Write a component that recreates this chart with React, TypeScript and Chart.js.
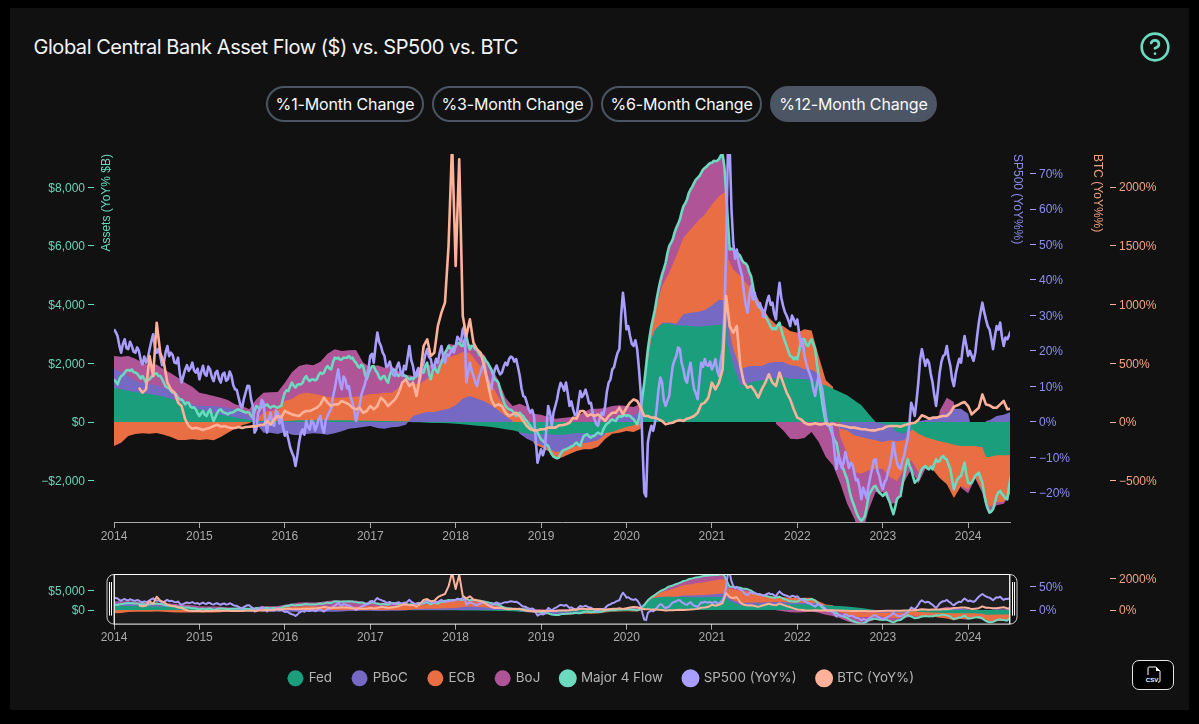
import React, { useEffect, useRef } from "react";
import { Chart, registerables } from "chart.js";

Chart.register(...registerables);

const CHART_TITLE = "Global Central Bank Asset Flow ($) vs. SP500 vs. BTC";
const PERIOD_BUTTONS = ["%1-Month Change", "%3-Month Change", "%6-Month Change", "%12-Month Change"];
const YEAR_TICKS = [2014, 2015, 2016, 2017, 2018, 2019, 2020, 2021, 2022, 2023, 2024];
const ASSET_TICKS = [-2000, 0, 2000, 4000, 6000, 8000];
const SP_TICKS = [-20, -10, 0, 10, 20, 30, 40, 50, 60, 70];
const BTC_TICKS = [-500, 0, 500, 1000, 1500, 2000];
const ASSET_TICKS_MINI = [0, 5000];
const SP_TICKS_MINI = [0, 50];
const BTC_TICKS_MINI = [0, 2000];
const X_RANGE = [2014, 2024.49];
const ASSET_RANGE = [-3407, 9131];
const SP_RANGE = [-28.2, 75.5];
const BTC_RANGE = [-851, 2281];

// months since Jan 2014 for the central-bank stacks
const flowMonths = [
  0,1,2,3,4,5,6,7,8,9,10,11,
  12,13,14,15,16,17,18,19,20,21,22,23,
  24,25,26,27,28,29,30,31,32,33,34,35,
  36,37,38,39,40,41,42,43,44,45,46,47,
  48,49,50,51,52,53,54,55,56,57,58,59,
  60,61,62,63,64,65,66,67,68,69,70,71,
  72,73,74,74.5,75,75.5,76,77,78,79,80,81,82,83,
  84,85,85.7,86,86.3,87,88,89,90,91,92,93,94,95,
  96,97,98,99,100,101,102,103,104,105,106,107,
  108,109,110,111,112,113,114,115,116,117,118,119,
  120,121,122,122.5,123,124,125,126,
];
const fedValues = [
  1158,1112,1067,1022,976,953,908,863,795,704,613,522,
  431,363,295,250,204,159,114,68,34,45,45,34,
  34,45,57,57,57,57,57,57,57,57,45,45,
  45,34,34,34,23,23,-11,-11,-23,-34,-34,-45,
  -57,-79,-102,-125,-148,-170,-204,-250,-284,-340,-397,-397,
  -409,-420,-431,-431,-409,-375,-386,-409,-409,-375,-340,-250,
  -170,-114,114,999,1986,2815,3121,3348,3360,3292,3292,3269,3246,3269,
  3292,3314,3326,3326,2588,1930,1249,1305,1385,1419,1476,1498,1532,1476,
  1476,1453,1419,1305,1249,1135,1022,908,738,568,284,0,
  -57,-114,-340,-397,-227,-397,-511,-590,-658,-704,-772,-817,
  -817,-817,-851,-1192,-1192,-1135,-1135,-1135,
];
const pbocValues = [
  636,590,499,375,363,329,340,306,261,125,102,79,
  114,182,250,272,284,272,204,136,-57,-363,-363,-409,
  -341,-431,-454,-409,-386,-397,-431,-386,-318,-227,-204,-170,
  -136,-204,-227,-182,-159,-91,204,284,340,340,397,454,
  568,795,885,795,704,568,397,204,34,-57,-170,-284,
  -363,-454,-590,-568,-477,-431,-341,-272,-204,-45,114,227,
  204,227,227,57,57,23,23,34,34,57,375,454,499,545,
  681,851,817,795,681,568,545,590,522,488,545,545,511,454,
  431,341,363,341,-57,0,-227,-284,-454,-511,-568,-624,
  -624,-511,-318,-227,-57,23,68,136,227,318,454,454,
  284,0,0,34,57,204,250,341,
];
const ecbValues = [
  -817,-704,-477,-409,-386,-397,-375,-431,-511,-613,-613,-590,
  -613,-590,-624,-511,-363,-227,-114,-45,57,272,341,363,
  681,738,885,942,908,863,795,772,772,795,817,851,
  908,931,965,965,1135,1362,1078,1022,1135,1305,1532,1759,
  1703,1589,1476,1249,1022,738,454,284,170,227,91,-57,
  -91,-114,-227,-204,-204,-182,-204,-250,-227,-159,-57,-114,
  -136,-227,-227,57,170,397,624,1249,1691,2304,2611,2838,3099,3257,
  3439,3530,3666,3723,2270,2701,3178,2792,2497,2043,1532,1283,1226,1169,
  1135,1362,1339,602,170,68,-250,-795,-1249,-1249,-1078,-965,
  -908,-1249,-1362,-965,-1022,-1305,-1022,-1022,-1249,-1419,-1816,-1362,
  -1476,-1078,-1476,-1476,-1703,-1589,-1589,-1249,
];
const bojValues = [
  454,522,681,760,681,647,715,624,602,681,624,602,
  454,397,341,306,261,170,227,227,681,681,624,624,
  624,908,965,965,965,1135,1476,1646,1589,1589,1589,1135,
  908,965,851,908,568,227,284,454,454,341,227,454,
  341,431,284,454,568,568,568,341,341,397,431,284,
  250,170,114,136,159,182,341,454,454,477,431,341,
  341,284,284,227,261,34,68,397,908,965,1078,1362,1476,1589,
  1419,1271,1305,227,454,681,681,624,23,0,0,-57,-284,-568,
  -590,-545,-341,-681,-1135,-1476,-1589,-1703,-1589,-2157,-1362,-795,
  -795,-908,-738,-454,-306,-397,-57,0,159,511,227,-57,
  -136,-34,-91,-227,-227,-114,-57,-34,
];
// half-month samples from Jan 2014 (index / 24 = years after 2014)
const majorValues = [
  1453,1283,1566,1680,1771,1793,1680,1566,1566,1339,1453,1566,1657,1566,1339,1169,1056,999,829,772,602,658,488,431,
  204,375,204,431,34,318,431,318,261,318,375,431,375,318,318,148,545,431,545,602,488,545,488,545,
  999,1056,1339,1169,1283,1339,1566,1396,1453,1453,1680,1680,1907,1793,2191,2191,2134,2191,2247,2191,2020,1850,1907,1453,
  1793,1907,1680,1453,1566,1339,1737,1737,1566,1680,1566,1453,1453,1566,1793,1680,2020,1453,1907,1680,2020,2361,2588,2474,
  2588,2701,2588,2928,2474,2588,2474,2247,2191,2020,1793,1453,1339,885,545,431,375,204,318,204,34,-136,-306,-363,
  -590,-704,-817,-1101,-1214,-1214,-987,-931,-874,-817,-704,-817,-477,-420,-533,-477,-363,-420,-136,-23,91,34,204,204,
  204,204,91,-79,431,1339,2474,3269,3836,4517,5028,5425,5993,6220,6617,6901,7355,7582,7922,8149,8320,8490,8660,8774,
  8830,8887,8967,9114,7809,5879,5879,5766,5652,5425,5312,4971,4290,3950,3836,3609,3382,3155,3155,3382,2928,2588,2247,2134,
  2134,2758,2815,2588,2815,2474,1566,658,-23,-136,-477,-704,-1385,-1612,-1952,-2520,-2860,-3201,-3371,-3201,-2520,-2293,-2179,-2406,
  -2520,-2406,-2747,-3144,-2633,-2520,-1839,-1271,-1612,-2066,-1952,-1612,-1498,-1612,-1612,-1271,-1328,-1158,-1271,-1612,-2293,-1952,-1839,-1385,
  -2066,-2066,-1839,-1725,-2066,-2747,-3087,-2974,-2520,-2349,-2520,-2633,-1839,
];
// readings between those half-month samples
const majorBetween = [
  1380,1450,1600,1760,1740,1700,1650,1480,1470,1420,1540,1640,1570,1470,1210,1140,1000,930,760,700,660,520,500,300,
  300,250,340,210,170,400,350,300,310,330,420,400,350,340,210,380,500,510,560,530,530,500,530,800,
  1080,1220,1230,1270,1280,1490,1450,1450,1420,1600,1640,1830,1820,2020,2160,2120,2190,2190,2170,2080,1900,1950,1640,1660,
  1900,1750,1520,1550,1420,1600,1790,1620,1640,1580,1500,1500,1530,1720,1690,1920,1650,1720,1750,1890,2240,2450,2500,2560,
  2680,2600,2800,2650,2600,2480,2330,2250,2070,1900,1600,1420,1100,700,480,420,280,270,240,100,-60,-230,-320,-480,
  -640,-780,-980,-1180,-1240,-1080,-950,-900,-830,-740,-780,-620,-440,-500,-480,-400,-400,-250,-60,50,50,140,180,240,
  230,140,10,120,900,1900,2900,3550,4200,4800,5220,5750,6100,6450,6750,7150,7450,7800,8020,8260,8380,8600,8700,8820,
  8900,8900,9080,8700,6800,5900,5800,5720,5500,5400,5100,4650,4100,3900,3720,3500,3250,3200,3300,3150,2750,2400,2220,2200,
  2400,2830,2650,2720,2650,2000,1100,300,-100,-300,-620,-1050,-1500,-1800,-2250,-2700,-3050,-3300,-3300,-2900,-2400,-2200,-2320,-2450,
  -2460,-2600,-2950,-2900,-2560,-2150,-1500,-1480,-1850,-2000,-1750,-1540,-1580,-1520,-1420,-1360,-1200,-1250,-1450,-1980,-2100,-1880,-1600,-1800,
  -2100,-1950,-1780,-1900,-2450,-2950,-3050,-2750,-2400,-2450,-2600,-2200,
];
const sp500Values = [
  26.1,24.2,19.5,23.3,20.5,21.4,19.5,20,16.2,16.7,20.5,24.7,19.5,18.6,16.7,21.4,19.5,16.7,18.1,11.1,14.8,14.4,16.7,13.9,
  12,15.8,13,14.8,11.5,14.4,11.1,13.9,12,13,9.2,6.9,4,8.3,10.1,4.5,-2.1,3.6,5.4,-3,2.6,-1.1,2.6,1.7,
  -3.9,-4.9,-8.6,-12.4,-5.8,-2.1,0.3,-2.1,-0.2,-1.1,1.7,-3,1.7,3.6,9.2,14.8,9.2,12,10.1,5.4,0.3,4.5,9.2,13,
  18.6,16.7,25.2,21.4,18.6,15.8,14.8,13,16.7,13,14.8,21.4,15.8,13.9,12,16.7,20.5,17.7,15.8,16.7,21.4,16.7,18.6,20.5,
  21.4,23.3,26.1,11.1,16.7,13,10.1,13.9,16.7,12,9.2,14.8,14.4,13.9,16.7,17.7,18.1,17.7,13,7.3,5.4,2.6,1.7,-11.5,
  -7.7,-7.7,4.5,-1.1,4.5,9.2,10.1,11.1,4.5,3.6,1.7,8.7,7.8,7.3,5.4,0.8,-1.1,2.6,4.5,11.1,14.8,17.7,20.5,36.4,
  26.1,24.2,21.4,20.5,8.3,-19.9,-5.8,-1.1,-0.2,9.2,11.1,4.5,7.3,15.8,18.6,20.5,14.8,11.1,16.7,9.2,6.4,16.7,17.7,15.8,
  14.8,17.7,13,20.5,48.6,77,50.5,48.6,43,36.4,30.8,38.3,36.4,32.7,31.7,31.7,35.5,33.6,28.9,39.2,32.7,29.9,27,28.9,
  28.9,21.4,18.6,14.8,12,7.3,13,9.2,1.7,-1.1,-3.9,-13.3,-10.5,-11.5,-10.5,-11.5,-14.3,-16.2,-21.8,-19.9,-18,-13.3,-10.5,-15.2,
  -19,-16.2,-12.4,-5.8,-11.5,-13.3,-9.6,-4.9,5.4,1.7,11.1,20.5,15.8,16.7,11.1,4.5,13.9,18.6,21.4,15.8,10.1,15.8,16.7,24.2,
  18.6,18.6,19.5,28,33.6,28.9,26.1,20.5,27,28,21.4,23.3,25.6,
];
const sp500Between = [
  25.3,21.5,22,20.8,22.6,19.8,21,17.5,18.4,18,22.8,21,20.6,16,19.6,18.5,18.8,16.5,13.5,13,16,15.2,14.5,15,
  14,13.5,15.6,12.6,13.8,12.2,13.4,11.6,14.2,10.4,9,4.8,6.5,10.2,6.5,-3,2.5,6.2,0.5,0.8,-0.5,3.3,-0.4,-1.5,
  -2.8,-7.2,-9.8,-9.5,-3.2,-3.6,-1.5,0.4,-2.4,0.8,-1.5,0.5,2.8,7,12,11,12.8,9.4,7,3.2,2.5,7.6,10.6,15,
  19.2,21.5,22.5,19.5,15.5,17,13.2,15.6,14.3,15.8,18.2,17.5,12.8,15.2,15,19,18.3,15.2,17.8,19.5,18.2,19,19.4,19.6,
  24,22.6,27,14,14.5,11.2,12.6,15.6,13.8,10.5,12.6,15.9,13.4,15.6,16,18.4,17,15.5,9.5,7,3.6,3.4,-5,-9.5,
  -9.4,-2,2.6,2.6,6.4,11,8.8,8,5.8,1.9,5.5,7,9.1,5.2,2.6,-0.6,1.2,2,8.6,12,15.4,19.5,30,32,
  27,22,23,15,-7,-21,-3,-2.5,4,12.5,6,6,12,17.4,21,16.6,12,14.5,12.5,8,12,15.5,16,17,
  16,14.5,17.5,30,77,60,46,45,41,33,35.5,34.5,34,33.5,29.5,34,33,30.5,35,35,31,28.6,30,27.5,
  25,23,16.6,13.5,9.2,10.5,11,5.4,-1,-0.5,-9,-9.8,-13,-8.5,-13,-12,-16.5,-18.5,-18.5,-21.5,-15.5,-10.8,-13.8,-17.5,
  -17,-14,-9.5,-9,-12.8,-11,-7,-0.5,3.8,6,17.5,18,17.6,13.5,7.5,9,17,19,18,12,13.5,17.8,21,21.5,
  20,17.2,24,31,31,27,23.5,24,26,24,23.8,24.4,
];
const btcValues = [
  null,null,null,null,null,null,null,292,250,278,562,392,845,590,505,335,278,250,165,136,23,-34,-57,-48,
  -57,-68,-57,-48,-34,-23,-40,-34,-45,-51,-51,-43,-51,-43,-40,-37,-37,-26,-26,9,-23,23,51,37,
  94,79,65,57,51,79,94,94,108,122,150,207,165,136,150,150,179,165,150,122,108,122,79,94,
  136,108,136,207,179,136,165,193,250,335,363,306,335,221,392,647,704,562,590,817,931,1016,1498,2377,
  1328,2236,902,732,874,675,618,590,477,335,193,136,150,136,79,51,65,79,51,9,-34,-62,-71,-71,
  -62,-62,-48,-48,-48,-28,-28,-20,-6,37,28,94,94,51,65,51,65,37,9,51,79,79,122,65,
  122,165,193,179,122,51,51,37,37,23,9,-20,-11,-6,9,17,9,28,37,51,79,150,165,207,
  335,278,335,448,1072,817,760,817,477,335,292,306,264,207,278,335,406,335,306,420,335,250,193,108,
  37,23,-6,-20,-20,-11,-20,-20,-11,-23,-14,-26,-28,-34,-40,-48,-48,-54,-62,-62,-68,-71,-71,-62,
  -57,-40,-34,-34,-34,-40,-28,-20,-11,-6,17,57,45,28,37,37,45,51,51,79,130,142,159,170,
  136,65,94,122,235,150,142,122,122,150,179,108,113,
];

const COLORS = {
  fed: "#1a9e7c", pboc: "#7569c4", ecb: "#e96e44", boj: "#b05498",
  major: "#6bdabe", sp: "#a99dff", btc: "#ffb199",
};
const TEXT = { asset: "#6bd3b6", sp: "#8d8ff0", btc: "#f2a283", axis: "#aaaaaa", legend: "#b4b4b4" };
const TICK_FONT = { family: "'Liberation Sans', Arial, sans-serif", size: 12 };

const fmtAsset = (v: number) => (v < 0 ? "\u2212" : "") + "$" + Math.abs(v).toLocaleString("en-US");
const fmtPct = (v: number) => (v < 0 ? "\u2212" : "") + Math.abs(v) + "%";
const flowPts = (vals: number[]) => vals.map((y, i) => ({ x: 2014 + flowMonths[i] / 12, y }));
const halfPts = (vals: (number | null)[]) => vals.map((y, i) => ({ x: 2014 + i / 24, y }));
const weavePts = (vals: number[], between: number[]) =>
  vals.flatMap((y, i) => {
    const a = { x: 2014 + i / 24, y };
    return i < between.length ? [a, { x: 2014 + (i + 0.5) / 24, y: between[i] }] : [a];
  });

function spacer(position: string, weight: number, width: number, title?: { text: string; color: string }) {
  return {
    type: "linear", position, weight, min: 0, max: 1,
    grid: { display: false }, border: { display: false }, ticks: { display: false },
    title: title
      ? { display: true, text: title.text, color: title.color, align: "end", font: TICK_FONT, padding: { top: 5, bottom: 0 } }
      : { display: false },
    afterFit: (s: any) => { s.width = width; },
  };
}

function valueAxis(position: string, weight: number, width: number, range: number[], ticks: number[], fmt: (v: number) => string, color: string, tickColor: string) {
  return {
    type: "linear", position, weight, min: range[0], max: range[1],
    grid: { display: true, drawOnChartArea: false, drawTicks: true, tickLength: 6, tickColor, lineWidth: 1 },
    border: { display: false },
    ticks: { color, font: TICK_FONT, padding: 3, autoSkip: false, callback: (v: number) => fmt(v) },
    afterBuildTicks: (s: any) => { s.ticks = ticks.map((value) => ({ value })); },
    afterFit: (s: any) => { s.width = width; },
  };
}

function buildDatasets(lineWidth: number) {
  const area = (label: string, vals: number[], color: string) => ({
    label, data: flowPts(vals), yAxisID: "y", stack: "flows", fill: "origin",
    backgroundColor: color, borderColor: color, borderWidth: 0, pointRadius: 0, tension: 0,
  });
  const line = (label: string, data: any[], color: string, yAxisID: string, order: number) => ({
    label, data, yAxisID, fill: false, order,
    backgroundColor: color, borderColor: color, borderWidth: lineWidth, pointRadius: 0, tension: 0, borderJoinStyle: "round",
  });
  return [
    area("Fed", fedValues, COLORS.fed),
    area("PBoC", pbocValues, COLORS.pboc),
    area("ECB", ecbValues, COLORS.ecb),
    area("BoJ", bojValues, COLORS.boj),
    line("Major 4 Flow", weavePts(majorValues, majorBetween), COLORS.major, "y", -1),
    line("SP500 (YoY%)", weavePts(sp500Values, sp500Between), COLORS.sp, "ySp", -2),
    line("BTC (YoY%)", halfPts(btcValues), COLORS.btc, "yBtc", -3),
  ];
}

function xAxis(height: number, color: string, showBorder: boolean) {
  return {
    type: "linear", position: "bottom", min: X_RANGE[0], max: X_RANGE[1],
    grid: { display: true, drawOnChartArea: false, drawTicks: true, tickLength: 6, tickColor: color },
    border: { display: showBorder, color, width: 1 },
    ticks: { color: "#aaaaaa", font: TICK_FONT, padding: 1, autoSkip: false, maxRotation: 0, callback: (v: number) => String(v) },
    afterBuildTicks: (s: any) => { s.ticks = YEAR_TICKS.map((value) => ({ value })); },
    afterFit: (s: any) => { s.height = height; },
  };
}

const labelNudgePlugin = {
  id: "labelNudge",
  beforeDraw(chart: any) {
    ["y", "ySp", "yBtc"].forEach((id) => {
      chart.scales[id].getLabelItems().forEach((item: any) => { item.options.translation[1] += 1; });
    });
  },
};

const brushPlugin = {
  id: "brushFrame",
  beforeDatasetsDraw(chart: any) {
    const { ctx, chartArea: a } = chart;
    ctx.save();
    ctx.fillStyle = "rgba(255,255,255,0.05)";
    ctx.fillRect(a.left, a.top, a.right - a.left, a.bottom - a.top);
    ctx.restore();
  },
  afterDraw(chart: any) {
    const { ctx, chartArea: a } = chart;
    ctx.save();
    ctx.strokeStyle = "#ffffff";
    ctx.lineWidth = 1;
    ctx.strokeRect(a.left + 0.5, a.top + 0.5, a.right - a.left - 1, a.bottom - a.top);
    ctx.strokeStyle = "#cfcfcf";
    ctx.beginPath();
    ctx.roundRect(a.left - 7, a.top + 0.5, 7, a.bottom - a.top, [7, 0, 0, 7]);
    ctx.roundRect(a.right, a.top + 0.5, 7, a.bottom - a.top, [0, 7, 7, 0]);
    ctx.stroke();
    ctx.strokeStyle = "#ffffff";
    [a.left - 4.5, a.left - 2.5, a.right + 2.5, a.right + 4.5].forEach((x: number) => {
      ctx.beginPath();
      ctx.moveTo(x, a.top + 8);
      ctx.lineTo(x, a.bottom - 8);
      ctx.stroke();
    });
    ctx.restore();
  },
};

const BUTTON_BOXES = [
  { left: 266, width: 158 }, { left: 432, width: 161 }, { left: 601, width: 161 }, { left: 770, width: 167 },
];

export default function App() {
  const mainRef = useRef<HTMLCanvasElement>(null);
  const miniRef = useRef<HTMLCanvasElement>(null);

  useEffect(() => {
    const main = new Chart(mainRef.current!, {
      type: "line",
      data: { datasets: buildDatasets(2.6) as any },
      options: {
        animation: false, responsive: false, events: [],
        layout: { padding: { left: 10, right: 10, top: 14, bottom: 8 } },
        plugins: { legend: { display: false }, tooltip: { enabled: false }, title: { display: false } },
        scales: {
          x: xAxis(20, "#aaaaaa", true),
          y: valueAxis("left", 1, 84, ASSET_RANGE, ASSET_TICKS, fmtAsset, TEXT.asset, COLORS.major),
          gapL: spacer("left", 0, 20, { text: "Assets (YoY% $B)", color: COLORS.major }),
          gapR1: spacer("right", 0, 20, { text: "SP500 (YoY%%)", color: TEXT.sp }),
          ySp: valueAxis("right", 1, 60, SP_RANGE, SP_TICKS, fmtPct, TEXT.sp, COLORS.sp),
          gapR2: spacer("right", 2, 20, { text: "BTC (YoY%%)", color: TEXT.btc }),
          yBtc: valueAxis("right", 3, 79, BTC_RANGE, BTC_TICKS, fmtPct, TEXT.btc, COLORS.btc),
        } as any,
      },
      plugins: [labelNudgePlugin as any],
    });
    const mini = new Chart(miniRef.current!, {
      type: "line",
      data: { datasets: buildDatasets(2) as any },
      options: {
        animation: false, responsive: false, events: [],
        layout: { padding: { left: 14, right: 10, top: 14, bottom: 1 } },
        plugins: {
          tooltip: { enabled: false },
          legend: {
            display: true, position: "bottom", align: "center",
            labels: {
              color: TEXT.legend, usePointStyle: true, pointStyle: "circle", boxHeight: 11.3, boxWidth: 13,
              padding: 21, font: { family: "Inter, sans-serif", size: 13.4 },
              sort: (a: any, b: any) => a.datasetIndex - b.datasetIndex,
            },
          },
        },
        scales: {
          x: xAxis(27, "#aaaaaa", false),
          y: valueAxis("left", 1, 80, ASSET_RANGE, ASSET_TICKS_MINI, fmtAsset, TEXT.asset, COLORS.major),
          gapL: spacer("left", 0, 20),
          gapR1: spacer("right", 0, 20),
          ySp: valueAxis("right", 1, 60, SP_RANGE, SP_TICKS_MINI, fmtPct, TEXT.sp, COLORS.sp),
          gapR2: spacer("right", 2, 20),
          yBtc: valueAxis("right", 3, 79, BTC_RANGE, BTC_TICKS_MINI, fmtPct, TEXT.btc, COLORS.btc),
        } as any,
      },
      plugins: [brushPlugin as any, labelNudgePlugin as any],
    });
    return () => { main.destroy(); mini.destroy(); };
  }, []);

  return (
    <div style={{ position: "fixed", inset: 0, background: "#000", overflow: "hidden" }}>
      <div style={{ position: "absolute", left: 10, top: 8, width: 1179, height: 702, background: "#111111" }} />
      <div style={{ position: "absolute", left: 33.5, top: 33, font: "400 20px/28px Inter, sans-serif", letterSpacing: "-0.46px", color: "#f3f4f6", whiteSpace: "nowrap" }}>{CHART_TITLE}</div>
      <svg width={32} height={32} viewBox="0 0 24 24" style={{ position: "absolute", left: 1139, top: 31 }} fill="none" stroke={COLORS.major} strokeWidth={2} strokeLinecap="round" strokeLinejoin="round">
        <circle cx={12} cy={12} r={10} />
        <path d="M9.09 9a3 3 0 0 1 5.83 1c0 2-3 3-3 3" />
        <line x1={12} y1={17} x2={12.01} y2={17} />
      </svg>
      {PERIOD_BUTTONS.map((label, i) => (
        <div key={label} style={{
          position: "absolute", left: BUTTON_BOXES[i].left, top: 86, width: BUTTON_BOXES[i].width, height: 36, boxSizing: "border-box",
          borderRadius: 18, border: "2px solid #4b5563", background: i === 3 ? "#4b5563" : "transparent", color: "#f9fafb",
          font: "400 16px/32px Inter, sans-serif", letterSpacing: "-0.15px", textAlign: "center", whiteSpace: "nowrap",
        }}>{label}</div>
      ))}
      <canvas ref={mainRef} width={1199} height={410} style={{ position: "absolute", left: 0, top: 140, width: 1199, height: 410 }} />
      <canvas ref={miniRef} width={1199} height={136} style={{ position: "absolute", left: 0, top: 560, width: 1199, height: 136 }} />
      <div style={{ position: "absolute", left: 1132, top: 660, width: 42, height: 30, boxSizing: "border-box", background: "#000", border: "1px solid #e5e5e5", borderRadius: 7 }}>
        <svg width={40} height={28} viewBox="0 0 40 28" style={{ display: "block" }}>
          <path d="M15 14 V7 a1 1 0 0 1 1-1 H23 L27 10 V20 a1 1 0 0 1-1 1 H25" fill="none" stroke="#fff" strokeWidth={1} />
          <path d="M23 6 L27 10 H23 Z" fill="#fff" />
          <text x={19} y={21} textAnchor="middle" fill="#fff" style={{ font: "700 6px 'Liberation Sans', sans-serif" }}>CSV</text>
        </svg>
      </div>
    </div>
  );
}
